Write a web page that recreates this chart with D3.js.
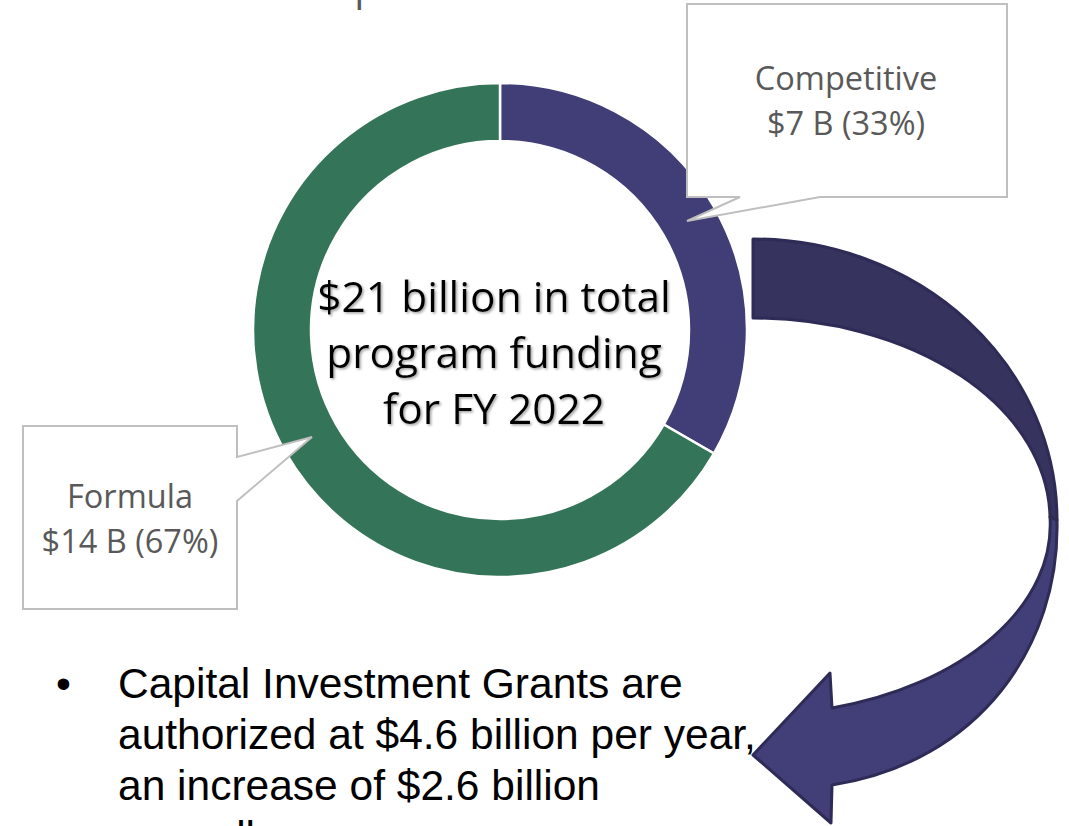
<!DOCTYPE html>
<html>
<head>
<meta charset="utf-8">
<script src="https://cdn.jsdelivr.net/npm/d3@7"></script>
<style>
  body { margin: 0; background: #fff; }
  svg { display: block; }
</style>
</head>
<body>
<svg id="chart" width="1069" height="826"></svg>
<script>
// funding split, $ billions
var categories = ["Competitive", "Formula"];
var values = [7, 14];
var colors = ["#403d77", "#347458"];
var centerLines = ["$21 billion in total", "program funding", "for FY 2022"];
var bulletLines = ["Capital Investment Grants are", "authorized at $4.6 billion per year,", "an increase of $2.6 billion", "annually"];
var titleText = "Competitive and Formula";

var svg = d3.select("#chart");
var cx = 500, cy = 330, outerR = 247, innerR = 189;
var total = d3.sum(values);

var data = categories.map((c, i) => ({name: c, value: values[i], color: colors[i]}));

var defs = svg.append("defs");
var shadow = defs.append("filter").attr("id", "shadow")
    .attr("x", "-10%").attr("y", "-10%").attr("width", "120%").attr("height", "130%");
shadow.append("feDropShadow")
    .attr("dx", 1.5).attr("dy", 1.5).attr("stdDeviation", 1)
    .attr("flood-color", "#7f7f7f").attr("flood-opacity", 0.7);

// title, mostly cut off by the top edge
svg.append("text")
    .attr("x", 268).attr("y", -0.5)
    .style("font-family", "'Open Sans', sans-serif")
    .style("font-size", "40px")
    .attr("fill", "#595959")
    .text(titleText);

var pie = d3.pie().value(d => d.value).sort(null);
var arc = d3.arc().innerRadius(innerR).outerRadius(outerR);

var ring = svg.append("g").attr("transform", `translate(${cx},${cy})`);
ring.selectAll("path")
    .data(pie(data))
    .join("path")
    .attr("d", arc)
    .attr("fill", d => d.data.color)
    .attr("stroke", "#fff")
    .attr("stroke-width", 2.5);

ring.append("text")
    .attr("text-anchor", "middle")
    .attr("filter", "url(#shadow)")
    .style("font-family", "'Open Sans', sans-serif")
    .style("font-size", "42.5px")
    .attr("fill", "#000")
    .selectAll("tspan")
    .data(centerLines)
    .join("tspan")
    .attr("x", -6)
    .attr("y", (d, i) => -18 + i * 56)
    .text(d => d);

// callout boxes
var callouts = [
    {name: "Competitive", path: "M687,4H1007V197H820L687,221L740,197H687Z", tx: 846, ty: 90},
    {name: "Formula", path: "M23,426H237V457L312,437L237,501V609H23Z", tx: 130, ty: 508}
];
var callG = svg.append("g");
callouts.forEach(function(c) {
    var d = data.find(e => e.name === c.name);
    callG.append("path")
        .attr("d", c.path)
        .attr("fill", "#fff")
        .attr("stroke", "#bfbfbf")
        .attr("stroke-width", 2);
    var t = callG.append("text")
        .attr("text-anchor", "middle")
        .style("font-family", "'Open Sans', sans-serif")
        .style("font-size", "32.5px")
        .attr("fill", "#595959");
    t.append("tspan").attr("x", c.tx).attr("y", c.ty).text(d.name);
    t.append("tspan").attr("x", c.tx).attr("y", c.ty + 45)
        .text(`$${d.value} B (${Math.round(d.value / total * 100)}%)`);
});

// bullet text
var bullet = svg.append("g")
    .style("font-family", "'Liberation Sans', Arial, sans-serif")
    .style("font-size", "42.5px")
    .attr("fill", "#000");
bullet.append("text").attr("x", 56).attr("y", 698).text("\u2022");
bullet.selectAll("text.line")
    .data(bulletLines)
    .join("text")
    .attr("class", "line")
    .attr("x", 118)
    .attr("y", (d, i) => 698 + i * 51)
    .text(d => d);

// curved arrow
var ax = 753;
var upper = `M${ax},239 A304,281 0 0 1 1057,520 L1050,517 A297,202 0 0 0 ${ax},318 Z`;
var lower = `M1057,520 C1060,645 980,762 832,785 L831,823 L${ax},755 L830,673 L832,708 A297,190 0 0 0 1050,517 Z`;
var arrow = svg.append("g")
    .attr("stroke", "#2e2b56")
    .attr("stroke-width", 3)
    .attr("stroke-linejoin", "round");
arrow.append("path").attr("d", upper).attr("fill", "#36335f");
arrow.append("path").attr("d", lower).attr("fill", "#413e78");
</script>
</body>
</html>
